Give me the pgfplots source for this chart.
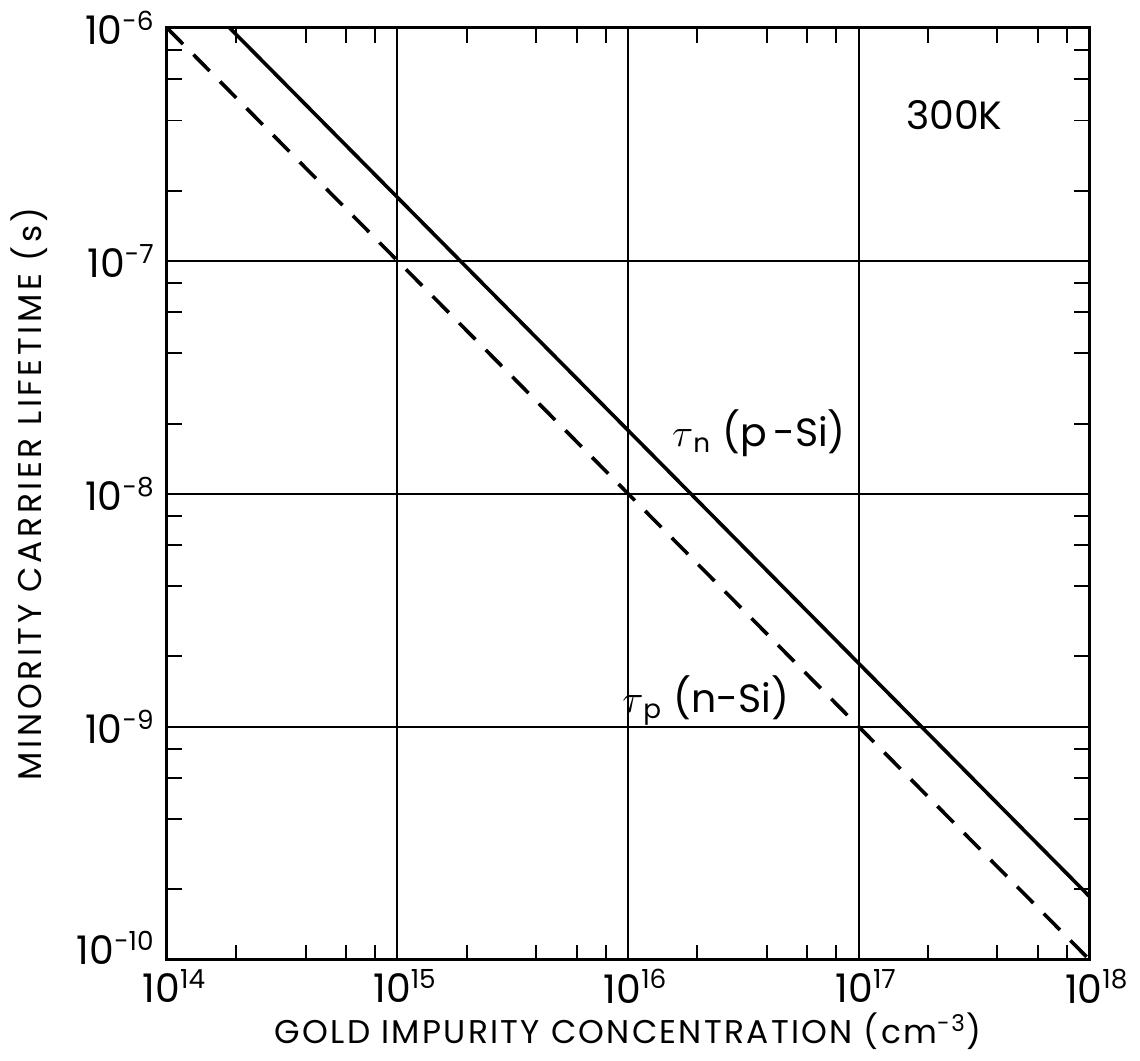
\documentclass[border=0pt]{standalone}
\usepackage{fontspec}
\setmainfont{Poppins}
\usepackage{pgfplots}
\pgfplotsset{compat=1.18}

\newcommand{\dec}[1]{10\textsuperscript{#1}}

\begin{document}
\begin{tikzpicture}
\begin{axis}[
    scale only axis,
    width=9.87cm, height=9.97cm,
    xmode=log, ymode=log,
    xmin=1e14, xmax=1e18,
    ymin=1e-10, ymax=1e-6,
    xtick={1e14,1e15,1e16,1e17,1e18},
    xticklabels={\dec{14},\dec{15},\dec{16},\dec{17},\dec{18}},
    ytick={1e-10,1e-9,1e-8,1e-7,1e-6},
    yticklabels={\raisebox{7pt}{\dec{-10}},\dec{-9},\dec{-8},\dec{-7},\dec{-6}},
    xminorticks=false, yminorticks=false,
    minor tick length=0pt,
    extra x ticks={2e14,4e14,6e14,8e14,2e15,4e15,6e15,8e15,2e16,4e16,6e16,8e16,2e17,4e17,6e17,8e17},
    extra x tick labels={},
    extra y ticks={2e-10,4e-10,6e-10,8e-10,2e-9,4e-9,6e-9,8e-9,2e-8,4e-8,6e-8,8e-8,2e-7,4e-7,6e-7,8e-7},
    extra y tick labels={},
    extra tick style={grid=none, major tick length=4.5pt, minor tick length=0pt,
        xminorticks=false, yminorticks=false},
    tick align=inside,
    tick pos=both,
    major tick length=0pt,
    every tick/.style={black, line width=0.6pt},
    grid=major,
    major grid style={black, line width=0.6pt},
    axis line style={line width=0.9pt},
    tick label style={font=\large},
    xticklabel style={yshift=0.5pt, xshift=2.4pt},
    /pgf/number format/assume math mode=true,
    xlabel={\addfontfeature{LetterSpace=7}GOLD IMPURITY CONCENTRATION (cm\textsuperscript{-3})},
    ylabel={\addfontfeature{LetterSpace=11}MINORITY CARRIER LIFETIME (s)},
    label style={font=\normalsize},
    xlabel style={yshift=4pt},
    ylabel style={yshift=2pt},
]
% tau_n (p-Si)
\addplot[black, line width=1.1pt] coordinates {(1.87e14,1e-6) (1e18,1.87e-10)};
% tau_p (n-Si)
\addplot[black, line width=1.1pt, dash pattern=on 7pt off 4.5pt] coordinates {(1e14,1e-6) (1e18,1e-10)};
\node[font=\large] at (axis cs:2.6e17,4.2e-7) {300K};
\node[font=\large] at (axis cs:3.7e16,1.82e-8) {$\tau$\textsubscript{n} (p\,-Si)};
\node[font=\large] at (axis cs:2.17e16,1.29e-9) {$\tau$\textsubscript{p} (n-Si)};
\end{axis}
\end{tikzpicture}
\end{document}
